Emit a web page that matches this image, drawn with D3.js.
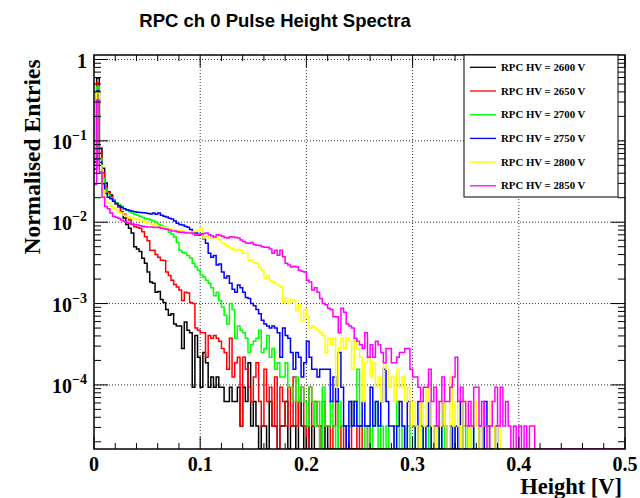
<!DOCTYPE html>
<html>
<head>
<meta charset="utf-8">
<script src="https://cdn.jsdelivr.net/npm/d3@7"></script>
<style>
  body { margin: 0; background: #fff; }
  svg { display: block; }
  .lbl { font-family: 'Liberation Serif', 'Times New Roman', serif; font-weight: bold; fill: #000; }
  .title { font-family: 'Liberation Sans', Arial, sans-serif; font-weight: bold; font-size: 18.5px; }
</style>
</head>
<body>
<svg id="chart"></svg>
<script>
// histogram binning: 200 bins over 0 - 0.5 V
const binWidth = 0.0025;
const nBins = 200;
// one entry after normalisation
const unitCount = 1 / 32000;

const hvValues = [2600, 2650, 2700, 2750, 2800, 2850];
const hvColors = ['#000000', '#ff0000', '#00ff00', '#0000ff', '#ffff00', '#ff00ff'];

// entries per bin
const hv2600 = [
  1760, 18900, 2600, 1470, 970, 760, 690, 598, 545, 495,
  430, 360, 300, 270, 235, 160, 150, 140, 115, 100,
  78, 59, 57, 44, 45, 36, 33, 27, 23, 24,
  18, 17, 17, 9, 19, 15, 14, 3, 13, 7,
  3, 8, 6, 3, 4, 3, 4, 3, 3, 2,
  2, 3, 2, 2, 3, 1, 3, 2, 6, 1,
  2, 1, 0, 1, 1, 0, 2, 1, 1, 0,
  1, 1, 2, 0, 1, 1, 0, 2, 1, 0,
  1, 0, 1, 0, 0, 1, 0, 1
];
const hv2650 = [
  1900, 16600, 2250, 1290, 870, 740, 656, 590, 540, 495,
  430, 400, 373, 340, 300, 281, 275, 270, 244, 212,
  190, 145, 145, 128, 119, 109, 108, 78, 71, 62,
  55, 51, 47, 35, 44, 43, 33, 32, 16, 15,
  14, 14, 7, 13, 12, 13, 12, 11, 9, 8,
  5, 12, 4, 6, 7, 1, 7, 5, 3, 2,
  4, 6, 2, 1, 5, 2, 3, 1, 4, 0,
  3, 2, 1, 3, 1, 4, 1, 2, 3, 1,
  0, 3, 1, 2, 1, 0, 2, 1, 1, 0,
  1, 2, 0, 1, 0, 1, 0, 2, 1, 0,
  1, 0, 0, 1
];
const hv2700 = [
  1600, 14700, 1960, 1100, 820, 700, 640, 600, 555, 530,
  500, 470, 450, 430, 415, 400, 390, 380, 365, 356,
  350, 340, 330, 318, 300, 292, 280, 260, 240, 230,
  210, 180, 145, 137, 133, 125, 116, 100, 90, 82,
  72, 68, 62, 57, 50, 40, 44, 35, 29, 23,
  18, 32, 27, 12, 17, 15, 14, 12, 8, 10,
  11, 12, 15, 8, 9, 13, 7, 9, 5, 6,
  4, 4, 6, 3, 3, 2, 4, 2, 3, 2,
  1, 3, 2, 1, 2, 0, 3, 1, 1, 2,
  1, 0, 2, 1, 1, 0, 1, 2, 1, 5,
  1, 1, 0, 1, 0, 1, 2, 0, 1, 0,
  1, 0, 0, 1, 2, 0, 1, 0, 1, 0,
  0, 1, 0, 1, 0, 0, 1, 0, 0, 1,
  0, 1, 0, 0, 0, 1, 0, 0, 0, 1,
  0, 0, 1, 0, 0, 0, 0, 1
];
const hv2750 = [
  1440, 13100, 1750, 950, 720, 650, 620, 580, 545, 510,
  490, 470, 455, 445, 435, 430, 425, 420, 418, 414,
  410, 405, 415, 400, 414, 390, 380, 370, 359, 350,
  330, 310, 300, 295, 285, 278, 260, 241, 235, 222,
  228, 200, 177, 133, 119, 125, 95, 98, 78, 66,
  70, 57, 48, 44, 54, 50, 44, 38, 37, 32,
  30, 27, 24, 20, 18, 17, 16, 17, 16, 14,
  7, 16, 13, 12, 8, 5, 8, 7, 4, 6,
  11, 7, 5, 5, 4, 5, 5, 5, 5, 2,
  4, 2, 8, 3, 1, 0, 2, 1, 2, 1,
  1, 2, 1, 1, 3, 1, 2, 1, 2, 5,
  2, 1, 1, 0, 1, 2, 1, 0, 2, 1,
  1, 0, 2, 1, 0, 1, 2, 0, 1, 1,
  0, 2, 1, 0, 1, 0, 1, 0, 2, 0,
  0, 1, 1, 0, 0, 1, 0, 2, 1, 0,
  0, 1
];
const hv2800 = [
  2240, 12500, 1600, 790, 600, 545, 500, 476, 460, 425,
  414, 391, 380, 360, 359, 359, 345, 335, 330, 320,
  312, 305, 300, 295, 285, 280, 278, 272, 265, 260,
  258, 256, 250, 248, 245, 243, 241, 245, 250, 256,
  270, 204, 215, 208, 204, 206, 210, 195, 178, 170,
  162, 154, 150, 145, 148, 145, 133, 133, 109, 110,
  103, 100, 89, 82, 66, 71, 62, 59, 57, 54,
  51, 33, 37, 32, 36, 35, 26, 31, 20, 27,
  22, 16, 17, 16, 15, 14, 13, 8, 12, 10,
  12, 3, 9, 12, 9, 12, 11, 5, 12, 9,
  7, 2, 6, 7, 4, 6, 3, 4, 2, 6,
  5, 3, 4, 2, 5, 3, 4, 2, 3, 1,
  2, 1, 0, 2, 1, 3, 2, 1, 0, 2,
  1, 2, 1, 0, 4, 1, 2, 1, 0, 2,
  1, 0, 1, 2, 1, 0, 1, 1, 0, 2,
  1, 0, 1
];
const hv2850 = [
  930, 10200, 1330, 650, 500, 470, 414, 380, 367, 359,
  340, 330, 318, 310, 305, 300, 295, 290, 285, 282,
  280, 280, 278, 276, 278, 270, 265, 262, 256, 250,
  250, 245, 241, 240, 238, 236, 235, 230, 222, 228,
  230, 232, 235, 225, 218, 210, 225, 222, 215, 208,
  204, 212, 210, 208, 205, 193, 185, 178, 177, 180,
  170, 167, 165, 160, 158, 158, 150, 133, 145, 126,
  145, 120, 100, 95, 90, 92, 90, 82, 80, 78,
  62, 59, 47, 50, 44, 37, 32, 31, 28, 27,
  22, 22, 14, 28, 25, 18, 17, 16, 12, 11,
  10, 9, 14, 7, 10, 7, 11, 10, 8, 6,
  9, 9, 6, 6, 7, 8, 8, 9, 9, 5,
  4, 4, 3, 2, 3, 3, 5, 2, 3, 1,
  2, 4, 2, 2, 3, 4, 7, 2, 3, 2,
  1, 2, 1, 3, 3, 1, 2, 1, 0, 1,
  2, 3, 1, 3, 1, 2, 1, 0, 1, 0,
  1, 0, 1, 0, 1, 1
];

const xTicks = [0, 0.1, 0.2, 0.3, 0.4, 0.5];
const yDecades = [1, 1e-1, 1e-2, 1e-3, 1e-4];
const yTickLabels = ['1', '10|−1', '10|−2', '10|−3', '10|−4'];

const seriesCounts = [hv2600, hv2650, hv2700, hv2750, hv2800, hv2850];

const W = 640, H = 498;
const margin = {top: 55, right: 15, bottom: 49, left: 94};
const width = W - margin.left - margin.right;
const height = H - margin.top - margin.bottom;

const svg = d3.select('#chart').attr('width', W).attr('height', H);

svg.append('text')
    .attr('class', 'title')
    .attr('x', 275)
    .attr('y', 27)
    .attr('text-anchor', 'middle')
    .text('RPC ch 0 Pulse Height Spectra');

const xScale = d3.scaleLinear().domain([0, 0.5]).range([0, width]);
const yScale = d3.scaleLog().domain([1.63e-5, 1.136]).range([height, 0]).clamp(true);

const chart = svg.append('g').attr('transform', `translate(${margin.left},${margin.top})`);

chart.append('clipPath').attr('id', 'plotclip')
  .append('rect').attr('width', width).attr('height', height);

// grid
chart.append('g').selectAll('line')
    .data(xTicks.slice(1, -1))
  .join('line')
    .attr('x1', d => xScale(d)).attr('x2', d => xScale(d))
    .attr('y1', 0).attr('y2', height)
    .attr('stroke', '#333').attr('stroke-dasharray', '1,2');
chart.append('g').selectAll('line')
    .data(yDecades)
  .join('line')
    .attr('y1', d => yScale(d)).attr('y2', d => yScale(d))
    .attr('x1', 0).attr('x2', width)
    .attr('stroke', '#333').attr('stroke-dasharray', '1,2');

// histograms
function histPath(counts) {
  const pts = [];
  for (let i = 0; i < nBins; i++) {
    const v = i < counts.length ? counts[i] * unitCount : 0;
    const y = yScale(Math.max(v, 1e-12));
    pts.push([xScale(i * binWidth), y], [xScale((i + 1) * binWidth), y]);
  }
  return d3.line()(pts);
}

chart.append('g').attr('clip-path', 'url(#plotclip)')
  .selectAll('path')
    .data(seriesCounts)
  .join('path')
    .attr('d', d => histPath(d))
    .attr('fill', 'none')
    .attr('stroke', (d, i) => hvColors[i])
    .attr('stroke-width', 1.5);

// frame
chart.append('rect')
    .attr('width', width).attr('height', height)
    .attr('fill', 'none').attr('stroke', '#000').attr('stroke-width', 1.5);

// x ticks (bottom and top, pointing inwards)
const xMinor = d3.range(0, 0.5001, 0.02);
const xt = chart.append('g');
[[height, -1], [0, 1]].forEach(([y0, dir]) => {
  xt.append('g').selectAll('line')
      .data(xMinor)
    .join('line')
      .attr('x1', d => xScale(d)).attr('x2', d => xScale(d))
      .attr('y1', y0)
      .attr('y2', d => y0 + dir * (Math.abs(d * 10 - Math.round(d * 10)) < 1e-6 ? 12 : 6))
      .attr('stroke', '#000');
});

xt.selectAll('text')
    .data(xTicks)
  .join('text')
    .attr('class', 'lbl')
    .attr('x', d => xScale(d))
    .attr('y', height + 22)
    .attr('text-anchor', 'middle')
    .style('font-size', '20px')
    .text(d => d === 0 ? '0' : d3.format('.1f')(d));

// y ticks (log, left and right)
const yMinor = [];
[1e-5, 1e-4, 1e-3, 1e-2, 1e-1, 1].forEach(dec => {
  for (let k = 1; k <= 9; k++) {
    const v = dec * k;
    if (v >= 1.63e-5 && v <= 1.136) yMinor.push({v: v, major: k === 1});
  }
});
const yt = chart.append('g');
[[0, 1], [width, -1]].forEach(([x0, dir]) => {
  yt.append('g').selectAll('line')
      .data(yMinor)
    .join('line')
      .attr('y1', d => yScale(d.v)).attr('y2', d => yScale(d.v))
      .attr('x1', x0)
      .attr('x2', d => x0 + dir * (d.major ? 14 : 7))
      .attr('stroke', '#000');
});

const yl = yt.append('g').selectAll('text')
    .data(yDecades)
  .join('text')
    .attr('class', 'lbl')
    .attr('x', -7)
    .attr('y', d => yScale(d) + 8)
    .attr('text-anchor', 'end')
    .style('font-size', '20px');
yl.each(function(d, i) {
  const parts = yTickLabels[i].split('|');
  const t = d3.select(this);
  t.append('tspan').text(parts[0]);
  if (parts[1]) {
    t.append('tspan')
        .attr('dy', -9)
        .style('font-size', '14px')
        .text(parts[1]);
  }
});

// axis titles
svg.append('text')
    .attr('class', 'lbl')
    .attr('transform', `translate(40,${margin.top + 102}) rotate(-90)`)
    .attr('text-anchor', 'middle')
    .style('font-size', '23.5px')
    .text('Normalised Entries');

svg.append('text')
    .attr('class', 'lbl')
    .attr('x', 622)
    .attr('y', 494)
    .attr('text-anchor', 'end')
    .style('font-size', '22.5px')
    .text('Height [V]');

// legend
const legend = svg.append('g').attr('transform', 'translate(464,55)');
legend.append('rect')
    .attr('width', 154).attr('height', 142)
    .attr('fill', '#fff').attr('stroke', '#000').attr('stroke-width', 1);
const rows = legend.selectAll('g.row')
    .data(hvValues)
  .join('g')
    .attr('class', 'row')
    .attr('transform', (d, i) => `translate(0,${12.3 + i * 23.7})`);
rows.append('line')
    .attr('x1', 6).attr('x2', 32)
    .attr('stroke', (d, i) => hvColors[i])
    .attr('stroke-width', 1.3);
rows.append('text')
    .attr('class', 'lbl')
    .attr('x', 37)
    .attr('y', 3.5)
    .style('font-size', '10.8px')
    .text(d => `RPC HV = ${d} V`);
</script>
</body>
</html>
